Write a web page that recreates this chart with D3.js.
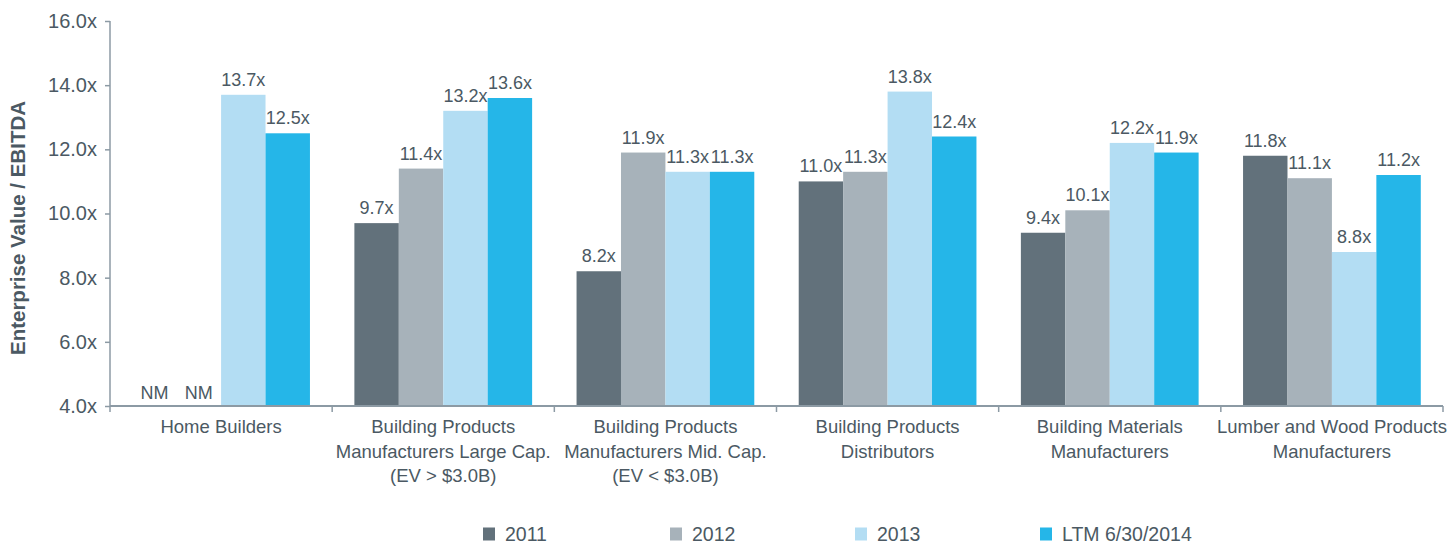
<!DOCTYPE html>
<html>
<head>
<meta charset="utf-8">
<script src="https://cdnjs.cloudflare.com/ajax/libs/d3/7.8.5/d3.min.js"></script>
<style>
  body { margin: 0; background: #fff; }
  text { font-family: "Liberation Sans", Arial, sans-serif; fill: #4b5963; }
</style>
</head>
<body>
<svg id="chart"></svg>
<script>
// categories (line breaks as in the source chart)
var categories = [
  ['Home Builders'],
  ['Building Products', 'Manufacturers Large Cap.', '(EV > $3.0B)'],
  ['Building Products', 'Manufacturers Mid. Cap.', '(EV < $3.0B)'],
  ['Building Products', 'Distributors'],
  ['Building Materials', 'Manufacturers'],
  ['Lumber and Wood Products', 'Manufacturers']
];
var series = ['2011', '2012', '2013', 'LTM 6/30/2014'];
var colors = ['#62717b', '#a7b2ba', '#b3ddf3', '#25b6e8'];

// EV / EBITDA multiples per series, null = NM
var values2011 = [null, 9.7, 8.2, 11.0, 9.4, 11.8];
var values2012 = [null, 11.4, 11.9, 11.3, 10.1, 11.1];
var values2013 = [13.7, 13.2, 11.3, 13.8, 12.2, 8.8];
var valuesLTM = [12.5, 13.6, 11.3, 12.4, 11.9, 11.2];
var allValues = [values2011, values2012, values2013, valuesLTM];

var yTicks = [4, 6, 8, 10, 12, 14, 16];

// layout
var width = 1450;
var height = 543;
var plotLeft = 110, plotRight = 1443, plotTop = 21, plotBottom = 406;
var axisColor = '#8c9aa4';

var svg = d3.select('#chart')
  .attr('width', width)
  .attr('height', height);

// scales
var x0 = d3.scaleBand()
  .domain(d3.range(categories.length))
  .range([plotLeft, plotRight])
  .padding(0);
var x1 = d3.scaleBand()
  .domain(d3.range(series.length))
  .range([0, x0.bandwidth()])
  .paddingInner(0)
  .paddingOuter(0.5);
var y = d3.scaleLinear().domain([4, 16]).range([plotBottom, plotTop]);

// build flat bar table
var bars = [];
categories.forEach(function(c, i) {
  allValues.forEach(function(vals, s) {
    bars.push({cat: i, s: s, v: vals[i]});
  });
});

// bars
svg.append('g').selectAll('rect')
  .data(bars.filter(function(d) { return d.v !== null; }))
  .enter()
  .append('rect')
  .attr('x', function(d) { return x0(d.cat) + x1(d.s); })
  .attr('y', function(d) { return y(d.v); })
  .attr('width', x1.bandwidth())
  .attr('height', function(d) { return y(4) - y(d.v); })
  .style('fill', function(d) { return colors[d.s]; });

// value labels
svg.append('g').selectAll('text')
  .data(bars)
  .enter()
  .append('text')
  .attr('x', function(d) { return x0(d.cat) + x1(d.s) + x1.bandwidth() / 2; })
  .attr('y', function(d) { return d.v === null ? y(4) - 7 : y(d.v) - 9; })
  .attr('text-anchor', 'middle')
  .style('font-size', '18px')
  .text(function(d) { return d.v === null ? 'NM' : d.v.toFixed(1) + 'x'; });

// y axis
var yAxis = svg.append('g')
  .attr('transform', 'translate(' + plotLeft + ',0)')
  .call(d3.axisLeft(y).tickValues(yTicks).tickSize(5).tickPadding(8)
    .tickFormat(function(d) { return d.toFixed(1) + 'x'; }));
yAxis.select('.domain').attr('stroke', axisColor).attr('stroke-width', 1.5)
  .attr('d', 'M0,' + plotTop + 'V' + plotBottom);
yAxis.selectAll('.tick line').attr('stroke', axisColor).attr('stroke-width', 1.5);
yAxis.selectAll('.tick text')
  .style('font-size', '20px')
  .style('font-family', '"Liberation Sans", Arial, sans-serif')
  .attr('fill', '#4b5963');

// x axis: line with ticks at category boundaries
var xAxis = svg.append('g');
xAxis.append('line')
  .attr('x1', plotLeft).attr('x2', plotRight)
  .attr('y1', plotBottom).attr('y2', plotBottom)
  .attr('stroke', axisColor).attr('stroke-width', 2);
xAxis.selectAll('line.tick')
  .data(d3.range(categories.length + 1))
  .enter()
  .append('line')
  .classed('tick', true)
  .attr('x1', function(d) { return plotLeft + d * x0.step(); })
  .attr('x2', function(d) { return plotLeft + d * x0.step(); })
  .attr('y1', plotBottom)
  .attr('y2', plotBottom + 6)
  .attr('stroke', axisColor).attr('stroke-width', 1.5);

// category labels
var catLabels = svg.append('g').selectAll('text')
  .data(categories)
  .enter()
  .append('text')
  .attr('text-anchor', 'middle')
  .style('font-size', '18.5px')
  .attr('transform', function(d, i) {
    return 'translate(' + (x0(i) + x0.bandwidth() / 2) + ',' + 433 + ')';
  });
catLabels.selectAll('tspan')
  .data(function(d) { return d; })
  .enter()
  .append('tspan')
  .attr('x', 0)
  .attr('y', function(d, i) { return i * 24.5; })
  .text(function(d) { return d; });

// y axis title
svg.append('text')
  .attr('transform', 'translate(25,' + 228 + ') rotate(-90)')
  .attr('text-anchor', 'middle')
  .style('font-size', '20.5px')
  .style('font-weight', 'bold')
  .text('Enterprise Value / EBITDA');

// legend
var legendX = [483, 670, 855, 1040];
var legend = svg.append('g').selectAll('g')
  .data(series)
  .enter()
  .append('g')
  .attr('transform', function(d, i) { return 'translate(' + legendX[i] + ',527.5)'; });
legend.append('rect')
  .attr('width', 12)
  .attr('height', 13)
  .style('fill', function(d, i) { return colors[i]; });
legend.append('text')
  .attr('x', 22)
  .attr('y', 13.5)
  .style('font-size', '19.5px')
  .text(function(d) { return d; });
</script>
</body>
</html>
